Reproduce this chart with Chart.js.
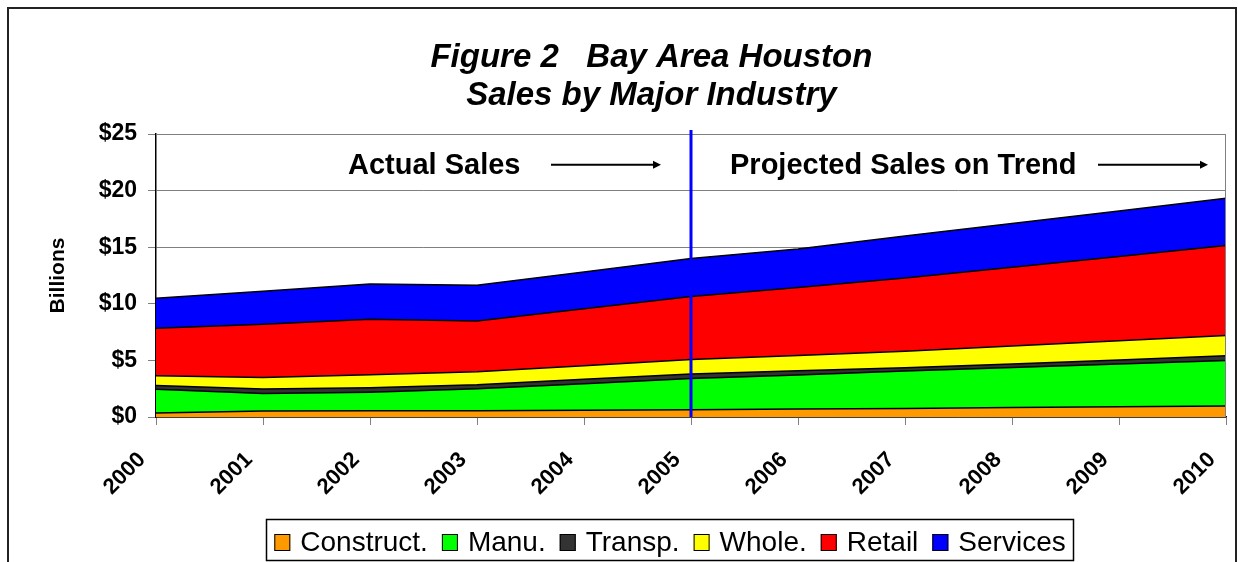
<!DOCTYPE html>
<html>
<head>
<meta charset="utf-8">
<script src="https://cdn.jsdelivr.net/npm/chart.js@4/dist/chart.umd.min.js"></script>
<style>
  body { margin: 0; background: #fff; }
  #myChart { display: block; }
</style>
</head>
<body>
<canvas id="myChart" width="1238" height="562"></canvas>
<script>
// values in $ billions
var years = ['2000', '2001', '2002', '2003', '2004', '2005', '2006', '2007', '2008', '2009', '2010'];
var construct = [0.36, 0.53, 0.56, 0.56, 0.60, 0.65, 0.70, 0.76, 0.83, 0.90, 0.98];
var manu      = [2.10, 1.55, 1.63, 1.93, 2.34, 2.75, 3.00, 3.30, 3.54, 3.79, 4.02];
var transp    = [0.33, 0.40, 0.40, 0.35, 0.40, 0.40, 0.38, 0.30, 0.32, 0.35, 0.40];
var whole     = [0.85, 1.02, 1.14, 1.16, 1.19, 1.29, 1.36, 1.45, 1.58, 1.69, 1.79];
var retail    = [4.20, 4.70, 4.91, 4.49, 5.04, 5.56, 5.99, 6.47, 6.96, 7.45, 7.96];
var services  = [2.66, 2.90, 3.11, 3.14, 3.23, 3.35, 3.42, 3.70, 3.86, 4.01, 4.17];
var yTicks = [0, 5, 10, 15, 20, 25];
var splitYear = '2005';

var FONT = "'Liberation Sans', Arial, sans-serif";

function series(label, data, color) {
    return {
        label: label,
        data: data,
        backgroundColor: color,
        borderColor: '#000000',
        borderWidth: 1.5,
        pointRadius: 0,
        pointHoverRadius: 0,
        tension: 0,
        fill: label === 'Construct.' ? 'origin' : '-1'
    };
}

function arrow(ctx, x1, x2, y) {
    ctx.save();
    ctx.strokeStyle = '#000';
    ctx.fillStyle = '#000';
    ctx.lineWidth = 2;
    ctx.beginPath();
    ctx.moveTo(x1, y);
    ctx.lineTo(x2 - 6, y);
    ctx.stroke();
    ctx.beginPath();
    ctx.moveTo(x2, y);
    ctx.lineTo(x2 - 8, y - 4);
    ctx.lineTo(x2 - 8, y + 4);
    ctx.closePath();
    ctx.fill();
    ctx.restore();
}

var decorations = {
    id: 'decorations',
    beforeDraw: function(chart) {
        var ctx = chart.ctx;
        ctx.save();
        ctx.fillStyle = '#fff';
        ctx.fillRect(0, 0, chart.width, chart.height);
        ctx.restore();
    },
    afterDraw: function(chart) {
        var ctx = chart.ctx;
        var a = chart.chartArea;
        var x = chart.scales.x, y = chart.scales.y;

        // outer frame
        ctx.save();
        ctx.strokeStyle = '#222';
        ctx.lineWidth = 2;
        ctx.beginPath();
        ctx.moveTo(8, chart.height + 2);
        ctx.lineTo(8, 8);
        ctx.lineTo(1236, 8);
        ctx.lineTo(1236, chart.height + 2);
        ctx.stroke();

        // plot frame top / right
        ctx.strokeStyle = '#808080';
        ctx.lineWidth = 1;
        ctx.beginPath();
        ctx.moveTo(a.left, a.top + 0.5);
        ctx.lineTo(a.right - 0.5, a.top + 0.5);
        ctx.lineTo(a.right - 0.5, a.bottom);
        ctx.stroke();

        // title
        ctx.fillStyle = '#000';
        ctx.textAlign = 'center';
        ctx.textBaseline = 'middle';
        ctx.font = 'italic bold 33px ' + FONT;
        var cx = a.left + (a.right - a.left) * 0.463;
        ctx.fillText('Figure 2   Bay Area Houston', cx, 58);
        ctx.fillText('Sales by Major Industry', cx, 96);

        // split line
        var sx = x.getPixelForValue(years.indexOf(splitYear));
        ctx.strokeStyle = '#0000FF';
        ctx.lineWidth = 3;
        ctx.beginPath();
        ctx.moveTo(sx, a.top - 4);
        ctx.lineTo(sx, a.bottom);
        ctx.stroke();

        // annotations
        var ty = y.getPixelForValue(22.2);
        ctx.font = 'bold 29px ' + FONT;
        ctx.textAlign = 'left';
        ctx.fillStyle = '#000';
        ctx.fillText('Actual Sales', 348, ty);
        arrow(ctx, 551, 661, ty - 1);
        ctx.fillText('Projected Sales on Trend', 730, ty);
        arrow(ctx, 1098, 1208, ty - 1);

        // legend
        ctx.font = '28px ' + FONT;
        var items = chart.data.datasets;
        var box = 16, gapText = 10, gapItem = 14;
        var total = 0;
        items.forEach(function(d, i) {
            total += box + gapText + ctx.measureText(d.label).width + (i < items.length - 1 ? gapItem : 0);
        });
        var lx = 670 - total / 2;
        var ly = 542;
        ctx.strokeStyle = '#000';
        ctx.lineWidth = 1.5;
        ctx.strokeRect(Math.round(lx - 8) + 0.5, 519.5, Math.round(total + 16), 41);
        ctx.textBaseline = 'middle';
        items.forEach(function(d) {
            ctx.fillStyle = d.backgroundColor;
            ctx.fillRect(lx, ly - 8, box, 17);
            ctx.lineWidth = 1;
            ctx.strokeStyle = '#000';
            ctx.strokeRect(lx + 0.5, ly - 8 + 0.5, box - 1, 16);
            ctx.fillStyle = '#000';
            ctx.fillText(d.label, lx + box + gapText, ly + 1);
            lx += box + gapText + ctx.measureText(d.label).width + gapItem;
        });
        ctx.restore();
    }
};

var ctx = document.getElementById('myChart');
var myChart = new Chart(ctx, {
    type: 'line',
    data: {
        labels: years,
        datasets: [
            series('Construct.', construct, '#FF9900'),
            series('Manu.', manu, '#00FF00'),
            series('Transp.', transp, '#333333'),
            series('Whole.', whole, '#FFFF00'),
            series('Retail', retail, '#FF0000'),
            series('Services', services, '#0000FF')
        ]
    },
    options: {
        responsive: false,
        animation: false,
        layout: { padding: { left: 46, right: 12, top: 134, bottom: 41 } },
        plugins: {
            legend: { display: false },
            title: { display: false },
            tooltip: { enabled: false }
        },
        scales: {
            x: {
                offset: false,
                afterFit: function(s) {
                    s.height = 104;
                    s.paddingLeft = 0;
                    s.paddingRight = 0;
                },
                grid: { drawOnChartArea: false, drawTicks: true, tickLength: 8, color: '#808080' },
                border: { color: '#000', width: 1.5 },
                ticks: {
                    minRotation: 45,
                    maxRotation: 45,
                    padding: 22,
                    labelOffset: -14,
                    color: '#000',
                    font: { family: FONT, size: 22, weight: 'bold' }
                }
            },
            y: {
                stacked: true,
                min: 0,
                max: 25,
                afterFit: function(s) { s.width = 110; },
                afterBuildTicks: function(s) {
                    s.ticks = yTicks.map(function(v) { return { value: v }; });
                },
                grid: { color: '#808080', tickLength: 8, lineWidth: 1 },
                border: { color: '#000', width: 1.5 },
                ticks: {
                    padding: 11,
                    color: '#000',
                    font: { family: FONT, size: 23, weight: 'bold' },
                    callback: function(v) { return '$' + v; }
                },
                title: {
                    display: true,
                    text: 'Billions',
                    color: '#000',
                    padding: 0,
                    font: { family: FONT, size: 21, weight: 'bold' }
                }
            }
        }
    },
    plugins: [decorations]
});
</script>
</body>
</html>
